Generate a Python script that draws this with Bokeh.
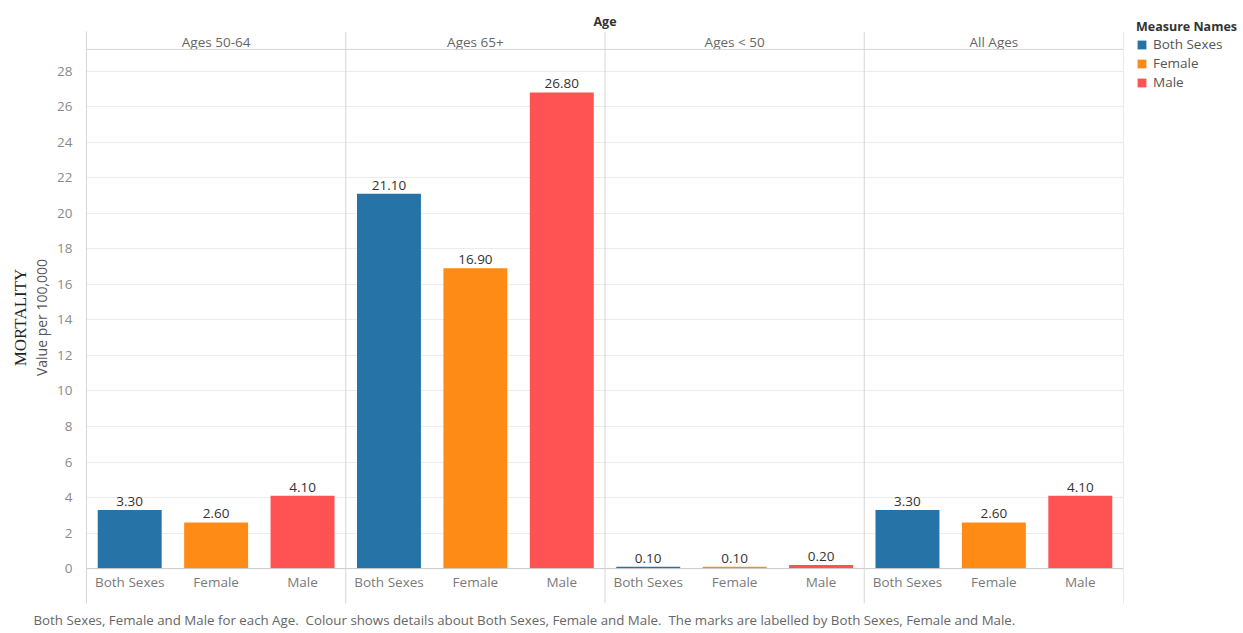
from bokeh.plotting import figure
from bokeh.layouts import row
from bokeh.models import (ColumnDataSource, FactorRange, Range1d, FixedTicker,
                          LinearAxis, Span, Legend, LegendItem, Title)
from bokeh.core.properties import value
from bokeh.embed import file_html
from bokeh.resources import INLINE

# ---- data -------------------------------------------------------------
ages = ["Ages 50-64", "Ages 65+", "Ages < 50", "All Ages"]
measures = ["Both Sexes", "Female", "Male"]
both_sexes = [3.30, 21.10, 0.10, 3.30]
female = [2.60, 16.90, 0.10, 2.60]
male = [4.10, 26.80, 0.20, 4.10]
y_ticks = [0, 2, 4, 6, 8, 10, 12, 14, 16, 18, 20, 22, 24, 26, 28]

series = {"Both Sexes": both_sexes, "Female": female, "Male": male}
colors = {"Both Sexes": "#2573a7", "Female": "#ff8b17", "Male": "#ff5253"}

# ---- layout (pixels) --------------------------------------------------
W, H = 1243, 633
CHART_W = 1130
FRAME_LEFT, FRAME_RIGHT = 86, 1123
FRAME_TOP, FRAME_BOTTOM = 31, 605
ZERO_PX, MAX_TICK_PX, HEADER_PX = 570, 70.7, 49

px_per_unit = (ZERO_PX - MAX_TICK_PX) / y_ticks[-1]
y_start = -(FRAME_BOTTOM - ZERO_PX) / px_per_unit
y_end = (ZERO_PX - FRAME_TOP) / px_per_unit
header_level = (ZERO_PX - HEADER_PX) / px_per_unit

FONT = value("Open Sans")
TEXT_SIZE = "13.5px"
GRID = "#ececec"
RULE = "#d6d6d6"

x_range = FactorRange(*[(a, m) for a in ages for m in measures],
                      factor_padding=0, group_padding=0, range_padding=0)

p = figure(width=CHART_W, height=H, x_range=x_range, y_range=Range1d(y_start, y_end),
           output_backend="svg", toolbar_location=None, frame_align=False,
           min_border_left=FRAME_LEFT, min_border_right=CHART_W - FRAME_RIGHT,
           min_border_top=FRAME_TOP, min_border_bottom=H - FRAME_BOTTOM,
           outline_line_color=None, background_fill_color="white",
           border_fill_color="white")

p.xaxis.visible = False
p.xgrid.visible = False

# value axis
yaxis = p.yaxis[0]
yaxis.ticker = FixedTicker(ticks=y_ticks)
yaxis.major_tick_line_color = None
yaxis.minor_tick_line_color = None
yaxis.axis_line_color = RULE
yaxis.major_label_text_color = "#8a8a8a"
yaxis.major_label_text_font = "Open Sans"
yaxis.major_label_text_font_size = TEXT_SIZE
yaxis.major_label_standoff = 8
yaxis.axis_label = "Value per 100,000"
yaxis.axis_label_text_font = "Open Sans"
yaxis.axis_label_text_font_style = "normal"
yaxis.axis_label_text_font_size = "14px"
yaxis.axis_label_text_color = "#555555"
yaxis.axis_label_standoff = 3

title_axis = LinearAxis(ticker=FixedTicker(ticks=[]), axis_line_color=None,
                        major_tick_line_color=None, minor_tick_line_color=None,
                        axis_label="MORTALITY", axis_label_standoff=0,
                        axis_label_text_font="Liberation Serif",
                        axis_label_text_font_style="normal",
                        axis_label_text_font_size="17px",
                        axis_label_text_color="#222222")
p.add_layout(title_axis, "left")

p.ygrid.ticker = FixedTicker(ticks=y_ticks[1:])
p.ygrid.grid_line_color = GRID

# panel rules: header underline, baseline, group separators
p.add_layout(Span(location=header_level, dimension="width", line_color=RULE, line_width=1))
p.add_layout(Span(location=0, dimension="width", line_color="#c9c9c9", line_width=1))
for k in range(1, len(ages) + 1):
    p.add_layout(Span(location=k * len(measures), dimension="height",
                      line_color=RULE, line_width=1))

# bars and value labels
sources = {}
for m in measures:
    vals = series[m]
    src = ColumnDataSource(dict(x=[(a, m) for a in ages], top=vals,
                                label=["%.2f" % v for v in vals]))
    sources[m] = src
    p.vbar(x="x", top="top", bottom=0, width=0.74, source=src,
           fill_color=colors[m], line_color=None)
    p.text(x="x", y="top", text="label", source=src, y_offset=-4,
           text_align="center", text_baseline="bottom", text_font=FONT,
           text_font_size=value(TEXT_SIZE), text_color="#333333")

# category labels under each bar
cat_src = ColumnDataSource(dict(x=[(a, m) for a in ages for m in measures],
                                y=[0] * (len(ages) * len(measures)),
                                t=[m for a in ages for m in measures]))
p.text(x="x", y="y", text="t", source=cat_src, y_offset=13,
       text_align="center", text_baseline="middle", text_font=FONT,
       text_font_size=value(TEXT_SIZE), text_color="#7a7a7a")

# age group headers
hdr_src = ColumnDataSource(dict(x=ages, y=[y_end] * len(ages), t=ages))
p.text(x="x", y="y", text="t", source=hdr_src, y_offset=10,
       text_align="center", text_baseline="middle", text_font=FONT,
       text_font_size=value(TEXT_SIZE), text_color="#666666")

# titles
p.title.text = "Age"
p.title.align = "center"
p.title.text_font = "Open Sans"
p.title.text_font_size = "12.5px"
p.title.text_font_style = "bold"
p.title.text_color = "#333333"
p.title.standoff = 4

footer = Title(text="Both Sexes, Female and Male for each Age.\u00a0 Colour shows details about "
                    "Both Sexes, Female and Male.\u00a0 The marks are labelled by Both Sexes, "
                    "Female and Male.",
               align="left", offset=-53, text_font="Open Sans", text_font_size="13.3px",
               text_font_style="normal", text_color="#666666")
p.add_layout(footer, "below")

# ---- colour legend in its own narrow panel ------------------------------
# The legend panel shares the bar sources; its value range lies above every
# bar so only the legend swatches show there.
lg = figure(width=W - CHART_W, height=H, x_range=x_range, y_range=Range1d(1000, 1001),
            title=None, output_backend="svg", toolbar_location=None, frame_align=False,
            x_axis_location=None, y_axis_location=None,
            min_border_left=0, min_border_right=0, min_border_top=0, min_border_bottom=0,
            outline_line_color=None, background_fill_color="white",
            border_fill_color="white")
lg.grid.visible = False

items = []
for m in measures:
    r = lg.vbar(x="x", top="top", bottom=0, width=0.74, source=sources[m],
                fill_color=colors[m], line_color=None)
    items.append(LegendItem(label=m, renderers=[r]))

legend = Legend(items=items, title="Measure Names", location=(6, 542),
                title_text_font="Open Sans", title_text_font_size="12.5px",
                title_text_font_style="bold", title_text_color="#333333",
                title_standoff=0, label_text_font="Open Sans",
                label_text_font_size=TEXT_SIZE, label_text_color="#555555",
                glyph_width=11, glyph_height=11, label_height=14,
                label_standoff=6, spacing=1, padding=0, margin=0,
                border_line_color=None, background_fill_alpha=0)
lg.add_layout(legend, "center")

layout = row(p, lg, spacing=0)

open("out.html", "w").write(file_html(layout, INLINE))
